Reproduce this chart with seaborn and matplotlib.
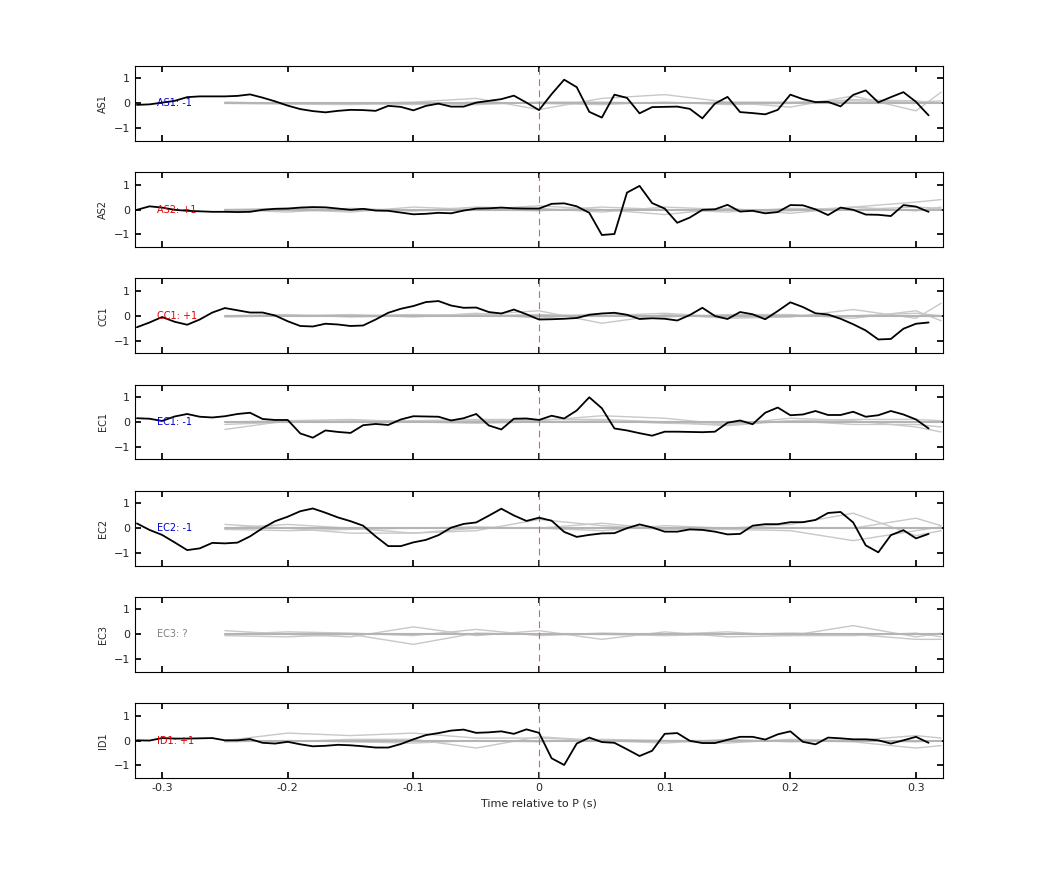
import numpy as np
import pandas as pd
import matplotlib
matplotlib.use("Agg")
import matplotlib.pyplot as plt
import seaborn as sns

sns.set_theme(style="white")
plt.rcParams['font.family'] = ['DejaVu Sans']

t = np.round(np.arange(-0.32, 0.315, 0.01), 2)
gx = [-0.25, -0.2, -0.15, -0.1, -0.05, 0, 0.05, 0.1, 0.15, 0.2, 0.25, 0.3, 0.32]

names = ["AS1", "AS2", "CC1", "EC1", "EC2", "EC3", "ID1"]
labels = ["AS1: -1", "AS2: +1", "CC1: +1", "EC1: -1", "EC2: -1", "EC3: ?", "ID1: +1"]
label_colors = ["#0000cc", "#dd0000", "#dd0000", "#0000cc", "#0000cc", "#808080", "#dd0000"]

AS1 = [-0.06,-0.04,0.03,0.1,0.25,0.28,0.28,0.28,0.3,0.36,0.23,0.08,-0.09,-0.23,-0.31,-0.36,-0.3,-0.26,-0.27,-0.3,
       -0.1,-0.14,-0.28,-0.1,-0.01,-0.13,-0.13,0.03,0.1,0.17,0.31,0.03,-0.27,0.37,0.95,0.65,-0.34,-0.57,0.35,0.22,
       -0.4,-0.15,-0.14,-0.13,-0.22,-0.6,-0.01,0.26,-0.35,-0.39,-0.44,-0.26,0.35,0.17,0.05,0.06,-0.12,0.34,0.52,0.04,
       0.25,0.45,0.06,-0.48]
AS2 = [-0.01,0.13,0.08,-0.01,-0.05,-0.07,-0.09,-0.09,-0.1,-0.09,-0.01,0.03,0.04,0.08,0.1,0.09,0.04,-0.01,0.03,-0.04,
       -0.05,-0.12,-0.19,-0.17,-0.13,-0.15,-0.04,0.04,0.05,0.08,0.05,0.04,0.04,0.23,0.25,0.13,-0.13,-1.02,-0.98,0.68,
       0.95,0.26,0.04,-0.53,-0.32,-0.01,0.01,0.19,-0.08,-0.05,-0.15,-0.1,0.18,0.17,0.01,-0.22,0.08,-0.01,-0.2,-0.21,
       -0.26,0.18,0.12,-0.09]
CC1 = [-0.46,-0.27,-0.05,-0.24,-0.36,-0.15,0.13,0.31,0.22,0.13,0.13,0.01,-0.22,-0.41,-0.43,-0.32,-0.35,-0.41,-0.39,-0.15,
       0.12,0.28,0.39,0.55,0.59,0.41,0.32,0.33,0.15,0.09,0.25,0.06,-0.15,-0.14,-0.12,-0.09,0.04,0.09,0.12,0.04,
       -0.13,-0.1,-0.12,-0.19,0.03,0.32,-0.01,-0.13,0.15,0.06,-0.14,0.19,0.54,0.35,0.1,0.05,-0.12,-0.34,-0.59,-0.95,
       -0.93,-0.52,-0.32,-0.27]
EC1 = [0.15,0.13,0.04,0.22,0.32,0.21,0.18,0.23,0.32,0.37,0.12,0.08,0.08,-0.46,-0.63,-0.34,-0.4,-0.44,-0.13,-0.08,
       -0.12,0.1,0.23,0.22,0.21,0.06,0.15,0.32,-0.14,-0.3,0.13,0.14,0.08,0.25,0.14,0.46,0.99,0.55,-0.26,-0.34,
       -0.45,-0.55,-0.39,-0.39,-0.4,-0.41,-0.39,-0.03,0.06,-0.09,0.37,0.58,0.27,0.3,0.44,0.28,0.28,0.41,0.21,0.27,
       0.44,0.3,0.1,-0.26]
EC2 = [0.19,-0.07,-0.27,-0.57,-0.88,-0.81,-0.59,-0.61,-0.58,-0.33,0.0,0.28,0.46,0.68,0.79,0.62,0.43,0.28,0.1,-0.33,
       -0.72,-0.72,-0.57,-0.47,-0.28,0.02,0.17,0.23,0.5,0.78,0.51,0.29,0.42,0.3,-0.15,-0.35,-0.27,-0.21,-0.2,0.0,
       0.15,0.03,-0.14,-0.14,-0.05,-0.07,-0.14,-0.25,-0.23,0.1,0.16,0.16,0.24,0.24,0.33,0.61,0.65,0.23,-0.69,-0.97,
       -0.28,-0.08,-0.41,-0.23]
EC3 = None
ID1 = [0.01,0.0,0.1,0.08,0.08,0.09,0.1,0.01,0.01,0.06,-0.09,-0.12,-0.05,-0.15,-0.23,-0.21,-0.17,-0.19,-0.23,-0.28,
       -0.28,-0.14,0.05,0.22,0.3,0.4,0.44,0.31,0.33,0.37,0.27,0.45,0.31,-0.71,-0.98,-0.12,0.12,-0.06,-0.09,-0.35,
       -0.62,-0.41,0.27,0.3,-0.01,-0.1,-0.1,0.03,0.15,0.15,0.04,0.25,0.37,-0.05,-0.15,0.12,0.09,0.05,0.05,0.01,
       -0.12,0.01,0.15,-0.09]
black = [AS1, AS2, CC1, EC1, EC2, EC3, ID1]

gray = [
    [[0,0.02,0.0,0.05,0.2,-0.25,0.2,0.35,0.05,-0.15,0.3,-0.3,0.45],
     [0,-0.03,-0.05,0.0,-0.05,0.05,0.05,0.0,0.05,0.05,0.1,0.05,0.1],
     [0.05,0.0,0.02,-0.05,0.05,0.0,-0.05,0.05,-0.05,0.0,0.15,0.1,0.0]],
    [[0,-0.1,0.05,-0.05,0.0,0.15,0.0,-0.2,0.05,-0.15,0.1,0.3,0.4],
     [-0.05,0.0,-0.1,0.1,0.0,-0.05,0.1,0.0,-0.1,0.05,0.0,0.1,0.05],
     [0.0,0.05,0.0,-0.05,0.1,0.05,-0.1,0.1,0.0,-0.05,0.1,-0.05,0.1]],
    [[0,0.05,-0.05,0.0,0.05,0.2,-0.3,0.05,-0.1,-0.05,0.25,-0.1,0.5],
     [0,0.0,0.05,-0.05,0.1,-0.1,0.1,-0.05,0.05,0.05,-0.1,0.2,-0.2],
     [-0.05,0.0,0.0,0.05,0.0,0.05,0.0,0.1,-0.05,0.0,0.0,0.1,0.0]],
    [[-0.3,0.05,0.1,0.0,0.05,0.05,0.25,0.15,-0.1,0.15,0.05,-0.2,-0.4],
     [-0.1,0.0,0.05,0.05,0.1,0.1,0.1,0.0,-0.15,0.05,0.1,0.1,0.05],
     [0.0,0.05,0.0,0.0,-0.05,0.0,0.05,-0.05,-0.1,0.05,-0.1,-0.1,-0.2]],
    [[0.15,0.0,-0.2,-0.2,-0.1,0.35,0.1,-0.05,0.0,0.15,0.6,-0.3,-0.1],
     [0.0,0.15,0.0,-0.2,0.0,0.0,-0.1,0.1,0.0,0.0,0.0,0.4,0.1],
     [-0.05,-0.1,-0.05,0.0,0.05,0.0,0.2,-0.05,-0.05,-0.1,-0.5,-0.1,0.05]],
    [[0.15,0.0,-0.1,0.3,-0.05,0.15,-0.2,0.1,-0.1,-0.05,0.35,-0.1,0.05],
     [0.0,0.1,0.05,-0.05,0.2,-0.05,0.05,0.0,0.1,-0.05,-0.05,0.05,-0.1],
     [-0.05,-0.1,0.0,-0.4,0.05,0.0,0.0,-0.05,0.0,0.05,0.0,-0.2,-0.2]],
    [[0.0,0.3,0.2,0.3,0.1,0.1,0.0,-0.1,0.05,-0.05,0.0,-0.05,0.0],
     [0.0,-0.05,0.05,0.05,-0.3,0.15,0.0,0.0,-0.1,0.05,0.0,0.2,0.1],
     [-0.05,0.0,-0.05,-0.1,0.0,-0.05,0.05,0.0,0.0,0.0,-0.05,-0.3,-0.2]],
]

fig, axes = plt.subplots(7, 1, figsize=(10.42, 8.75), dpi=100, sharex=True)
fig.subplots_adjust(left=0.1296, right=0.905, top=0.9246, bottom=0.1109, hspace=0.42)

for i, ax in enumerate(axes):
    for g in gray[i]:
        sns.lineplot(x=gx, y=g, ax=ax, color="#c8c8c8", lw=1.0, sort=False, estimator=None)
    sns.lineplot(x=[-0.25, 0.32], y=[0, 0], ax=ax, color="#b4b4b4", lw=1.5, sort=False, estimator=None)
    ax.axvline(0, color="#e06060", lw=0.8, ls=(0, (6, 4)))
    if black[i] is not None:
        sns.lineplot(x=t, y=black[i], ax=ax, color="black", lw=1.3, sort=False, estimator=None)
    ax.text(-0.304, 0.0, labels[i], color=label_colors[i], fontsize=7, va="center", ha="left")
    ax.set_xlim(-0.3215, 0.3215)
    ax.set_ylim(-1.5, 1.5)
    ax.set_yticks([-1, 0, 1])
    ax.set_xticks([-0.3, -0.2, -0.1, 0, 0.1, 0.2, 0.3])
    ax.set_xticklabels(["-0.3", "-0.2", "-0.1", "0", "0.1", "0.2", "0.3"])
    ax.tick_params(direction="in", length=4, labelsize=8, top=True, right=True, bottom=True, left=True, color="black")
    ax.set_ylabel(names[i], fontsize=7, labelpad=4)
    for s in ax.spines.values():
        s.set_color("black")
        s.set_linewidth(0.8)
axes[-1].set_xlabel("Time relative to P (s)", fontsize=8)

fig.savefig("out.png", dpi=100, facecolor="white")
